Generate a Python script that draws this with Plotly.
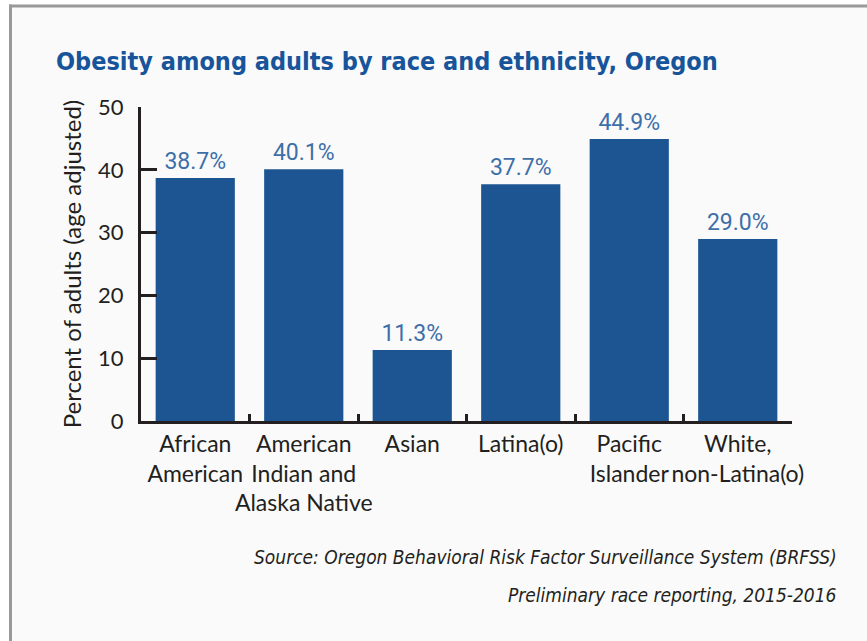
import plotly.graph_objects as go

categories = ["African<br>American", "American<br>Indian and<br>Alaska Native", "Asian",
              "Latina(o)", "Pacific<br>Islander", "White,<br>non-Latina(o)"]
values = [38.7, 40.1, 11.3, 37.7, 44.9, 29.0]
y_ticks = [0, 10, 20, 30, 40, 50]

title_text = "Obesity among adults by race and ethnicity, Oregon"
y_title = "Percent of adults (age adjusted)"
source_1 = "Source: Oregon Behavioral Risk Factor Surveillance System (BRFSS)"
source_2 = "Preliminary race reporting, 2015-2016"

W, H = 867, 641
L, R, T, B = 141, 75, 107, 220
pw, ph = W - L - R, H - T - B

def px_x(x):
    return (x - L) / pw

def px_y(y):
    return (H - B - y) / ph

axis_col = "#231f20"
cond = "DejaVu Sans Condensed, Roboto"
frame_col = "#999999"

fig = go.Figure(go.Bar(
    x=categories, y=values,
    marker=dict(color="#1c5591", line=dict(width=0)),
    width=0.73,
    texttemplate="%{y:.1f}%", textposition="outside",
    textfont=dict(family="Roboto", size=23, color="#3d6fa9"),
    cliponaxis=False,
))

fig.update_layout(
    width=W, height=H,
    margin=dict(l=L, r=R, t=T, b=B, autoexpand=False),
    paper_bgcolor="white", plot_bgcolor="rgba(0,0,0,0)",
    showlegend=False,
    shapes=[
        dict(type="rect", xref="paper", yref="paper",
             x0=px_x(10.5), x1=px_x(W), y0=px_y(6), y1=px_y(H),
             fillcolor="#fafafa", line=dict(width=0), layer="below"),
        dict(type="line", xref="paper", yref="paper",
             x0=px_x(9), x1=px_x(W), y0=px_y(6), y1=px_y(6),
             line=dict(color=frame_col, width=3), layer="below"),
        dict(type="line", xref="paper", yref="paper",
             x0=px_x(10.5), x1=px_x(10.5), y0=px_y(4.5), y1=px_y(H),
             line=dict(color=frame_col, width=3), layer="below"),
    ],
    annotations=[
        dict(text=title_text, xref="paper", yref="paper", x=px_x(54), y=px_y(62),
             xanchor="left", yanchor="middle", showarrow=False,
             font=dict(family=cond, size=25, color="#17549a", weight="bold")),
        dict(text=source_1, xref="paper", yref="paper", x=px_x(839), y=px_y(557),
             xanchor="right", yanchor="middle", showarrow=False,
             font=dict(family=cond, size=19, color=axis_col, style="italic")),
        dict(text=source_2, xref="paper", yref="paper", x=px_x(839), y=px_y(595),
             xanchor="right", yanchor="middle", showarrow=False,
             font=dict(family=cond, size=19, color=axis_col, style="italic")),
    ],
)

fig.update_xaxes(
    range=[-0.5, 5.5], showline=True, linewidth=3, linecolor=axis_col,
    ticks="inside", ticklen=7, tickwidth=3, tickcolor=axis_col, tickson="boundaries",
    tickangle=0, showgrid=False, zeroline=False, fixedrange=True,
    tickfont=dict(family="Lato", size=23, color=axis_col),
)
fig.update_yaxes(
    range=[0, 50], tickvals=y_ticks, showline=True, linewidth=3, linecolor=axis_col,
    ticks="inside", ticklen=16, tickwidth=3, tickcolor=axis_col,
    showgrid=False, zeroline=False, ticklabelstandoff=10, fixedrange=True,
    tickfont=dict(family="Lato", size=22, color=axis_col),
    title=dict(text=y_title, standoff=10, font=dict(family="Lato", size=24, color=axis_col)),
)

fig.write_html("out.html", config={"displayModeBar": False},
               post_script="document.body.style.margin='0';")
